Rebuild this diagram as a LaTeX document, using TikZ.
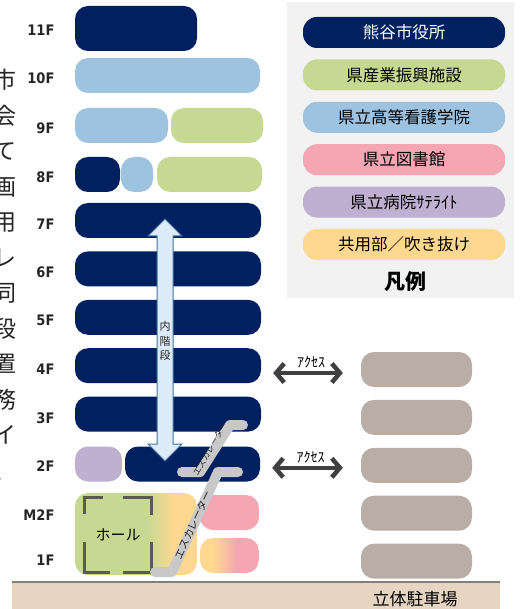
\documentclass[tikz,border=0pt]{standalone}
\usepackage{fontspec}
\usepackage{tikz}
\usetikzlibrary{positioning, arrows.meta}
\setmainfont{Noto Sans CJK JP}
\newfontfamily\flfont{DejaVu Sans Condensed}[BoldFont={DejaVu Sans Condensed Bold}]

\definecolor{navy}{RGB}{0,32,96}
\definecolor{sangyo}{RGB}{197,217,146}
\definecolor{kango}{RGB}{157,195,224}
\definecolor{tosho}{RGB}{244,167,179}
\definecolor{byoin}{RGB}{191,175,208}
\definecolor{kyoyo}{RGB}{254,216,145}
\definecolor{parking}{RGB}{185,173,165}
\definecolor{ground}{RGB}{230,213,193}
\definecolor{panel}{RGB}{242,242,242}
\definecolor{escgray}{RGB}{200,200,200}
\definecolor{stairfill}{RGB}{221,235,247}
\definecolor{stairline}{RGB}{65,113,156}
\definecolor{acc}{RGB}{64,64,64}
\definecolor{txt}{RGB}{38,38,38}

\tikzset{
  block/.style={rectangle, rounded corners=13pt, inner sep=0pt, minimum height=35pt},
  legend/.style={block, minimum width=202pt, minimum height=31pt, rounded corners=14pt, font=\fontsize{16.5}{16.5}\selectfont},
  floorlabel/.style={anchor=east, text=txt, font=\flfont\bfseries\fontsize{14.5}{14.5}\selectfont},
  escalator/.style={line width=10pt, draw=escgray, line cap=round, line join=round},
  access/.style={line width=4.5pt, draw=acc, {Straight Barb[length=8pt,width=19pt]}-{Straight Barb[length=8pt,width=19pt]}},
  acclabel/.style={above=3pt, inner sep=0pt, text=black, font=\fontsize{14}{14}\selectfont},
  bracket/.style={line width=3pt, draw=black!65},
}

\begin{document}
\begin{tikzpicture}[x=1pt, y=-1pt]
\useasboundingbox (0,0) rectangle (519,609);

% Legend
\node[fill=panel, inner sep=0pt, minimum width=227pt, minimum height=296pt] (legendbox) at (400.5,150) {};
\node[legend, fill=navy, text=white] (l1) at (404,32.5) {熊谷市役所};
\node[legend, fill=sangyo, below=11pt of l1] (l2) {県産業振興施設};
\node[legend, fill=kango, below=11pt of l2] (l3) {県立高等看護学院};
\node[legend, fill=tosho, below=11pt of l3] (l4) {県立図書館};
\node[legend, fill=byoin, below=11pt of l4] (l5) {県立病院ｻﾃﾗｲﾄ};
\node[legend, fill=kyoyo, below=11pt of l5] (l6) {共用部／吹き抜け};
\node[font=\fontsize{21}{21}\selectfont\bfseries] (legtitle) at (405,282) {凡例};

% Side text (cut off)
\node[text=txt, align=center, inner sep=0pt, font=\fontsize{23}{35.5}\selectfont] (side) at (5.5,275)
  {市\\会\\て\\画\\用\\レ\\同\\段\\置\\務\\イ\\、};

% Floor labels
\node[floorlabel] (lab11) at (58,30) {11F};
\node[floorlabel] (lab10) at (58,78) {10F};
\node[floorlabel] (lab9) at (58,128) {9F};
\node[floorlabel] (lab8) at (58,177) {8F};
\node[floorlabel] (lab7) at (58,224) {7F};
\node[floorlabel] (lab6) at (58,272) {6F};
\node[floorlabel] (lab5) at (58,320) {5F};
\node[floorlabel] (lab4) at (58,369) {4F};
\node[floorlabel] (lab3) at (58,418) {3F};
\node[floorlabel] (lab2) at (58,466) {2F};
\node[floorlabel] (labm2) at (58,515) {M2F};
\node[floorlabel] (lab1) at (58,560) {1F};

% Floors
\node[block, fill=navy, minimum width=122pt, minimum height=45pt] (f11) at (136,28.5) {};
\node[block, fill=kango, minimum width=185pt] (f10) at (167.5,75.5) {};
\node[block, fill=kango, minimum width=93pt] (f9a) at (121.5,125.5) {};
\node[block, fill=sangyo, minimum width=92pt] (f9b) at (217,125.5) {};
\node[block, fill=navy, minimum width=45pt] (f8a) at (97.5,174.5) {};
\node[block, fill=kango, minimum width=32pt] (f8b) at (137,174.5) {};
\node[block, fill=sangyo, minimum width=105pt] (f8c) at (209.5,174.5) {};
\node[block, fill=navy, minimum width=186pt] (f7) at (168,220.5) {};
\node[block, fill=navy, minimum width=186pt, below=13pt of f7] (f6) {};
\node[block, fill=navy, minimum width=186pt, below=13pt of f6] (f5) {};
\node[block, fill=navy, minimum width=186pt, below=13pt of f5] (f4) {};
\node[block, fill=navy, minimum width=186pt, below=13pt of f4] (f3) {};
\node[block, fill=byoin, minimum width=47pt] (f2a) at (98.5,464) {};
\node[block, fill=navy, minimum width=135pt] (f2b) at (192.5,464) {};
\node[block, fill=tosho, minimum width=59pt] (fm2) at (229.5,512.5) {};

% Hall (M2F-1F)
\begin{scope}
\clip[rounded corners=13pt] (75,493) rectangle (197,575);
\fill[sangyo] (75,493) rectangle (148,575);
\shade[left color=sangyo, right color=kyoyo] (147,493) rectangle (174,575);
\fill[kyoyo] (173,493) rectangle (197,575);
\end{scope}
\draw[bracket] (84,514) |- (103,497);
\draw[bracket] (123,497) -| (151,515);
\draw[bracket] (84,542) |- (110,572);
\draw[bracket] (123,572) -| (151,542);
\node[font=\fontsize{15}{15}\selectfont, text=black] (hall) at (118,535) {ホール};

% 1F shared / library
\begin{scope}
\clip[rounded corners=13pt] (200,538) rectangle (259,573);
\fill[kyoyo] (200,538) rectangle (214,573);
\shade[left color=kyoyo, right color=tosho] (213,538) rectangle (237,573);
\fill[tosho] (236,538) rectangle (259,573);
\end{scope}

% Inner stairs
\draw[stairline, fill=stairfill, line width=1pt] (165,219) -- (182,236) -- (173,236) -- (173,444)
  -- (182,444) -- (165,461) -- (148,444) -- (157,444) -- (157,236) -- (148,236) -- cycle;
\node[text=txt, align=center, inner sep=0pt, font=\fontsize{11}{14.5}\selectfont] (stairs) at (165,341) {内\\階\\段};

% Escalators
\draw[escalator] (182,472) -- (200,472) -- (230,425) -- (243,425);
\draw[escalator] (155,572) -- (172,572) -- (218,472) -- (238,472);
\node[rotate=60, inner sep=0pt, text=txt, font=\fontsize{8.5}{8.5}\selectfont] (esc2) at (210,449) {エスカレーター};
\node[rotate=65, inner sep=0pt, text=txt, font=\fontsize{10.5}{10.5}\selectfont] (esc1) at (193,525) {エスカレーター};

% Parking
\node[block, fill=parking, minimum width=111pt] (p4) at (416.5,369.5) {};
\node[block, fill=parking, minimum width=111pt, below=12.5pt of p4] (p3) {};
\node[block, fill=parking, minimum width=111pt, below=12.5pt of p3] (p2) {};
\node[block, fill=parking, minimum width=111pt, below=12.5pt of p2] (pm2) {};
\node[block, fill=parking, minimum width=111pt, below=12.5pt of pm2] (p1) {};

% Access
\coordinate (a4) at ([yshift=-3.5pt]p4.west);
\coordinate (a2) at ([yshift=-2.5pt]p2.west);
\draw[access, shorten <=12pt, shorten >=18pt] (a4 -| f4.east) -- node[acclabel] {ｱｸｾｽ} (a4);
\draw[access, shorten <=12pt, shorten >=18pt] (a2 -| f2b.east) -- node[acclabel] {ｱｸｾｽ} (a2);

% Ground
\fill[ground] (12,583) rectangle (500,609);
\draw[line width=2.5pt, black!50] (12,582) -- (500,582);
\node[font=\fontsize{17}{17}\selectfont, text=black] (park) at (415,599) {立体駐車場};
\end{tikzpicture}
\end{document}
